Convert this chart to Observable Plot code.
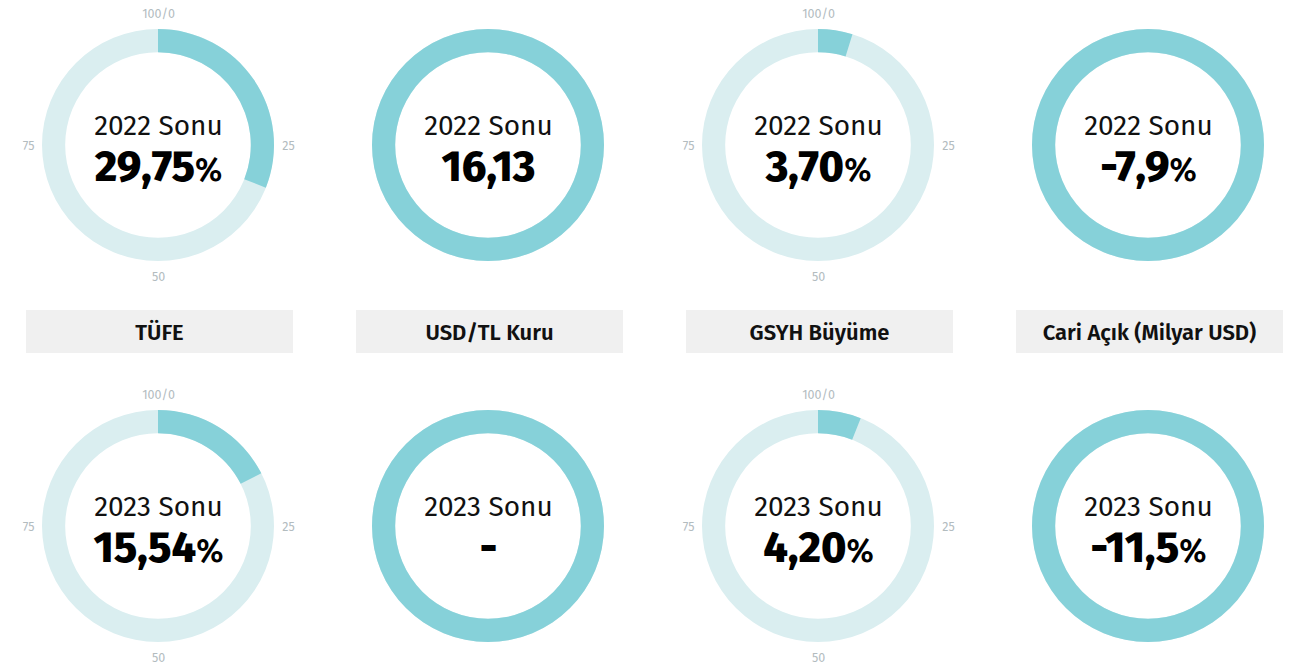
<!DOCTYPE html>
<html>
<head>
<meta charset="utf-8">
<script src="https://cdn.jsdelivr.net/npm/d3@7"></script>
<script src="https://cdn.jsdelivr.net/npm/@observablehq/plot@0.6"></script>
<style>
  html, body { margin: 0; padding: 0; background: #fff; }
  body { width: 1303px; height: 664px; overflow: hidden; font-family: "Fira Sans", "Open Sans", "Noto Sans", sans-serif; }
  .row { display: flex; }
  .cell { width: 330px; flex: none; }
  .cell svg { display: block; overflow: visible; }
  .labels { height: 91px; }
  .box { margin: 20px 0 0 26px; width: 267px; height: 43px; background: #f0f0f0;
         display: flex; align-items: center; justify-content: center;
         font-weight: 600; font-size: 22px; color: #111; padding-top: 2px; box-sizing: border-box; }
</style>
</head>
<body>
<div id="row1" class="row"></div>
<div id="labels" class="row labels"></div>
<div id="row2" class="row"></div>
<script>
// ---- data ----
const categories = ["TÜFE", "USD/TL Kuru", "GSYH Büyüme", "Cari Açık (Milyar USD)"];
const periods = ["2022 Sonu", "2023 Sonu"];
const values2022 = ["29,75", "16,13", "3,70", "-7,9"];
const values2023 = ["15,54", "-", "4,20", "-11,5"];
const units = ["%", "", "%", "%"];
const gauge2022 = [31, 100, 4.8, 100];   // filled share of ring
const gauge2023 = [17.5, 100, 6, 100];
const showScale = [true, false, true, false];
const scaleLabels = ["100/0", "25", "50", "75"];
const scaleAt = [0, 25, 50, 75];

const FILL = "#86d1d9";
const TRACK = "#daeef0";
const FONT = "'Fira Sans', 'Open Sans', 'Noto Sans', sans-serif";

// ring mark drawn via Plot's x/y scales
function ring(from, to, color) {
  return (index, scales) => {
    const {x, y} = scales;
    const k = x(1) - x(0);
    const angle = d3.scaleLinear().domain([0, 100]).range([0, 2 * Math.PI]);
    const arc = d3.arc().innerRadius(0.8 * k).outerRadius(1 * k)
      .startAngle(angle(from)).endAngle(angle(to));
    const g = d3.create("svg:g").attr("transform", `translate(${x(0)},${y(0)})`);
    g.append("path").attr("d", arc()).attr("fill", color);
    return g.node();
  };
}

function gauge(period, value, unit, fill, scale) {
  const polar = scaleAt.map((v, i) => ({
    label: scaleLabels[i],
    x: 1.12 * Math.sin(v / 100 * 2 * Math.PI),
    y: 1.13 * Math.cos(v / 100 * 2 * Math.PI)
  }));
  const marks = [
    ring(0, 100, TRACK),
    ring(0, fill, FILL),
    Plot.text([period], {x: () => 0, y: () => 0, text: d => d, dy: -19,
      fontSize: 28, fontWeight: 400, fill: "#111", fontFamily: FONT}),
    Plot.text([value + unit], {x: () => 0, y: () => 0, text: d => d, dy: 22,
      fontSize: 43, fontWeight: 800, fill: "#000", fontFamily: FONT})
  ];
  if (scale) {
    marks.push(Plot.text(polar, {x: "x", y: "y", text: "label",
      fontSize: 12.5, fill: "#b3bcbf", fontFamily: FONT}));
  }
  const svg = Plot.plot({
    width: 316, height: 290, margin: 0,
    x: {domain: [-158 / 116, 158 / 116], axis: null},
    y: {domain: [-1.25, 1.25], axis: null},
    style: {background: "transparent", overflow: "visible"},
    marks
  });
  // smaller percent sign
  d3.select(svg).selectAll("text").each(function() {
    const t = this.textContent;
    if (t.endsWith("%") && t.length > 1) {
      const sel = d3.select(this);
      sel.text(t.slice(0, -1));
      sel.append("tspan").attr("font-size", 32).attr("font-weight", 600).text("%");
    }
  });
  return svg;
}

categories.forEach((c, i) => {
  const c1 = document.createElement("div"); c1.className = "cell";
  c1.appendChild(gauge(periods[0], values2022[i], units[i], gauge2022[i], showScale[i]));
  document.getElementById("row1").appendChild(c1);

  const lc = document.createElement("div"); lc.className = "cell";
  const box = document.createElement("div"); box.className = "box"; box.textContent = c;
  lc.appendChild(box);
  document.getElementById("labels").appendChild(lc);

  const c2 = document.createElement("div"); c2.className = "cell";
  c2.appendChild(gauge(periods[1], values2023[i], units[i], gauge2023[i], showScale[i]));
  document.getElementById("row2").appendChild(c2);
});
</script>
</body>
</html>
